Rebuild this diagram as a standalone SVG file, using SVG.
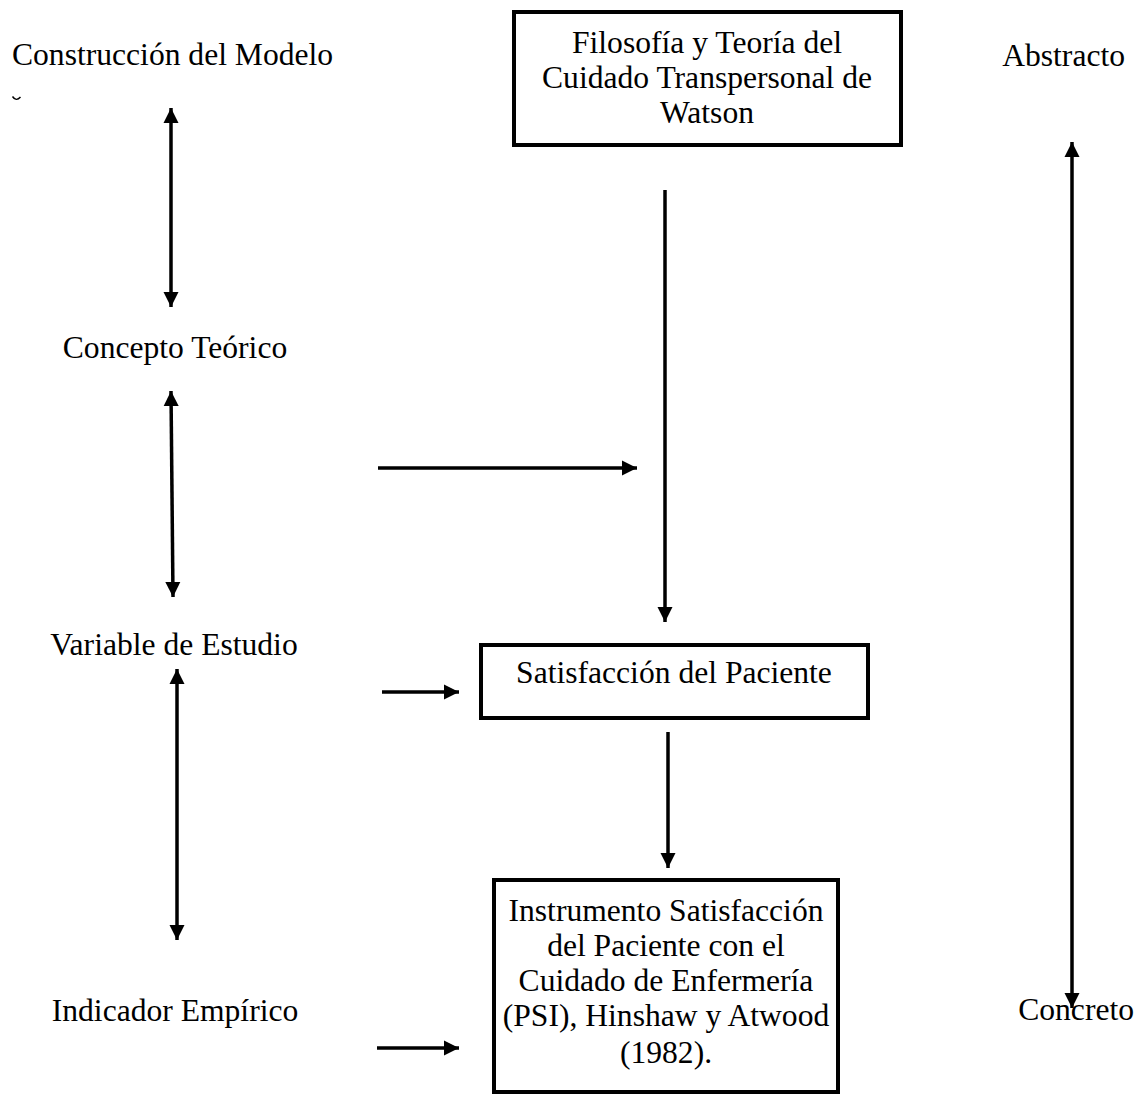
<svg xmlns="http://www.w3.org/2000/svg" width="1143" height="1098" viewBox="0 0 1143 1098">
<style>
text{font-family:"Liberation Serif","Times New Roman",serif;font-size:31.6px;fill:#000}
.box{fill:#fff;stroke:#000;stroke-width:4}
.c{text-anchor:middle}
.ln{stroke:#000;stroke-width:3.5;fill:none}
</style>
<defs>
<marker id="ah" viewBox="0 0 10 10" refX="10" refY="5" markerWidth="4.4" markerHeight="4.4" orient="auto-start-reverse" markerUnits="strokeWidth">
<path d="M0,0 L10,5 L0,10 z" fill="#000"/>
</marker>
</defs>
<rect width="1143" height="1098" fill="#fff"/>

<g id="label-construccion"><text x="12" y="65">Construcción del Modelo</text>
<path d="M12.5,96.5 Q16,102 20.5,97" stroke="#000" stroke-width="1.4" fill="none"/></g>
<g id="label-concepto"><text x="175" y="358" class="c">Concepto Teórico</text></g>
<g id="label-variable"><text x="174" y="655" class="c">Variable de Estudio</text></g>
<g id="label-indicador"><text x="175" y="1021" class="c">Indicador Empírico</text></g>
<g id="label-abstracto"><text x="1125" y="66" text-anchor="end">Abstracto</text></g>
<g id="label-concreto"><text x="1134" y="1020" text-anchor="end">Concreto</text></g>

<g id="node-filosofia">
<rect class="box" x="514" y="12" width="387" height="133"/>
<text class="c" x="707" y="53">Filosofía y Teoría del</text>
<text class="c" x="707" y="88">Cuidado Transpersonal de</text>
<text class="c" x="707" y="123">Watson</text>
</g>
<g id="node-satisfaccion">
<rect class="box" x="481" y="645" width="387" height="73"/>
<text class="c" x="674" y="683">Satisfacción del Paciente</text>
</g>
<g id="node-instrumento">
<rect class="box" x="494" y="880" width="344" height="212"/>
<text class="c" x="666" y="921">Instrumento Satisfacción</text>
<text class="c" x="666" y="956">del Paciente con el</text>
<text class="c" x="666" y="991">Cuidado de Enfermería</text>
<text class="c" x="666" y="1026">(PSI), Hinshaw y Atwood</text>
<text class="c" x="666" y="1063">(1982).</text>
</g>

<g id="connectors">
<line class="ln" x1="171" y1="108" x2="171" y2="307" marker-start="url(#ah)" marker-end="url(#ah)"/>
<line class="ln" x1="171" y1="391" x2="173" y2="597" marker-start="url(#ah)" marker-end="url(#ah)"/>
<line class="ln" x1="177" y1="669" x2="177" y2="940" marker-start="url(#ah)" marker-end="url(#ah)"/>
<line class="ln" x1="1072" y1="142" x2="1072" y2="1008" marker-start="url(#ah)" marker-end="url(#ah)"/>
<line class="ln" x1="378" y1="468" x2="637" y2="468" marker-end="url(#ah)"/>
<line class="ln" x1="665" y1="190" x2="665" y2="622" marker-end="url(#ah)"/>
<line class="ln" x1="382" y1="692" x2="459" y2="692" marker-end="url(#ah)"/>
<line class="ln" x1="668" y1="732" x2="668" y2="868" marker-end="url(#ah)"/>
<line class="ln" x1="377" y1="1048" x2="459" y2="1048" marker-end="url(#ah)"/>
</g>
</svg>
